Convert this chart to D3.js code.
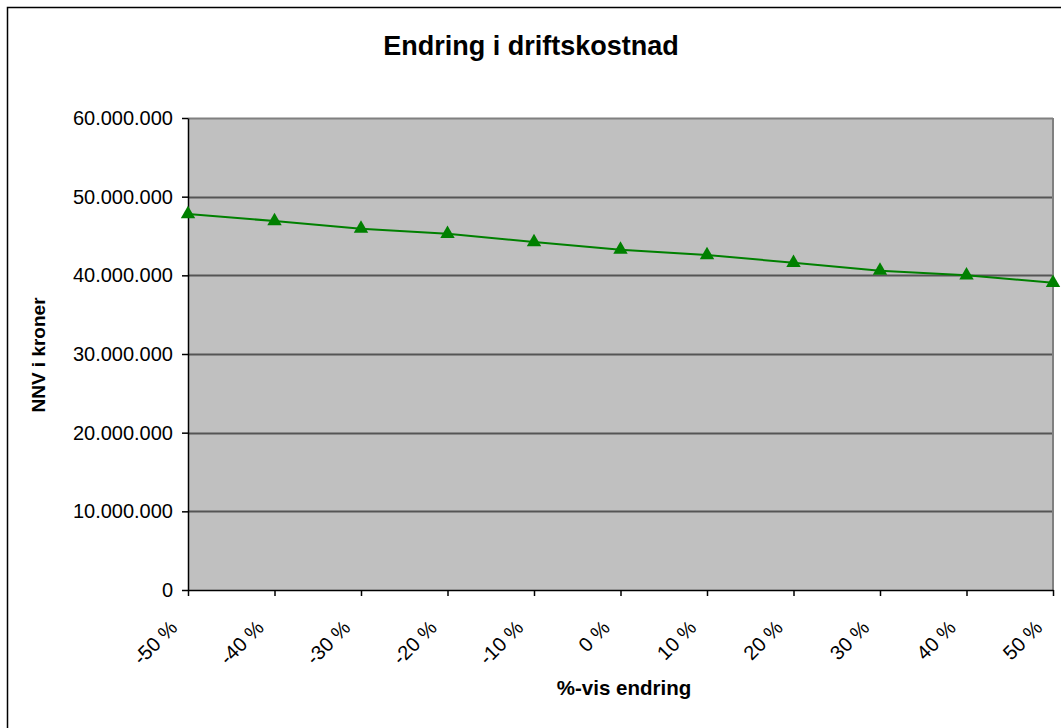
<!DOCTYPE html>
<html>
<head>
<meta charset="utf-8">
<script src="https://cdn.jsdelivr.net/npm/d3@7"></script>
<style>
  html, body { margin: 0; padding: 0; background: #fff; }
  svg { display: block; font-family: "Liberation Sans", Arial, sans-serif; }
</style>
</head>
<body>
<svg id="chart" width="1061" height="728"></svg>
<script>
// Sensitivity of net present value to a change in operating cost
const categories = ["-50 %", "-40 %", "-30 %", "-20 %", "-10 %", "0 %", "10 %", "20 %", "30 %", "40 %", "50 %"];
const npvValues = [47800000, 46900000, 45930000, 45290000, 44240000, 43260000, 42580000, 41600000, 40590000, 40000000, 39060000];
const yTicks = [0, 10000000, 20000000, 30000000, 40000000, 50000000, 60000000];

const title = "Endring i driftskostnad";
const xTitle = "%-vis endring";
const yTitle = "NNV i kroner";

const svg = d3.select("#chart");
const W = 1061, H = 728;
const plot = { left: 188, top: 118, right: 1053, bottom: 590 };

// outer chart frame (continues past the right and bottom edges)
svg.append("rect")
  .attr("x", 7.5).attr("y", 7.5)
  .attr("width", W + 20).attr("height", H + 20)
  .attr("fill", "#fff").attr("stroke", "#000").attr("stroke-width", 1.5);

const x = d3.scalePoint().domain(categories).range([plot.left, plot.right]).padding(0);
const y = d3.scaleLinear().domain([0, 60000000]).range([plot.bottom, plot.top]);

// plot background
svg.append("rect")
  .attr("x", plot.left).attr("y", plot.top)
  .attr("width", plot.right - plot.left).attr("height", plot.bottom - plot.top)
  .attr("fill", "#c0c0c0");

// horizontal gridlines
svg.append("g").selectAll("line")
  .data(yTicks.filter(d => d > 0))
  .join("line")
  .attr("x1", plot.left).attr("x2", plot.right)
  .attr("y1", d => Math.round(y(d)) + 0.5).attr("y2", d => Math.round(y(d)) + 0.5)
  .attr("stroke", d => d === 60000000 ? "#808080" : "#555")
  .attr("stroke-width", 2);

// right border of plot area
svg.append("line")
  .attr("x1", plot.right).attr("x2", plot.right)
  .attr("y1", plot.top).attr("y2", plot.bottom)
  .attr("stroke", "#808080").attr("stroke-width", 2);

const fmt = v => v === 0 ? "0" : d3.format(",")(v).replace(/,/g, ".");

// y axis
const yAxis = svg.append("g")
  .attr("transform", `translate(${plot.left},0)`)
  .call(d3.axisLeft(y).tickValues(yTicks).tickFormat(fmt).tickSizeOuter(0).tickSizeInner(6).tickPadding(9));
yAxis.select(".domain").attr("stroke", "#000").attr("stroke-width", 1.5);
yAxis.selectAll(".tick line").attr("stroke", "#000").attr("stroke-width", 1.5);
yAxis.selectAll(".tick text")
  .attr("font-size", 20).attr("fill", "#000")
  .attr("font-family", "Liberation Sans, Arial, sans-serif");

// x axis
const xAxis = svg.append("g")
  .attr("transform", `translate(0,${plot.bottom})`)
  .call(d3.axisBottom(x).tickSizeOuter(0).tickSizeInner(6));
xAxis.select(".domain").attr("stroke", "#000").attr("stroke-width", 1.5);
xAxis.selectAll(".tick line").attr("stroke", "#000").attr("stroke-width", 1.5);
xAxis.selectAll(".tick text")
  .attr("font-size", 20).attr("fill", "#000")
  .attr("font-family", "Liberation Sans, Arial, sans-serif")
  .attr("text-anchor", "end")
  .attr("dy", null)
  .attr("y", 0)
  .attr("transform", "translate(-10,39) rotate(-45)");

// series line
svg.append("path")
  .datum(npvValues)
  .attr("d", d3.line().x((d, i) => x(categories[i])).y(d => y(d)))
  .attr("fill", "none")
  .attr("stroke", "#008000")
  .attr("stroke-width", 2);

// triangle markers
const tri = d3.symbol().type(d3.symbolTriangle).size(90);
svg.append("g").selectAll("path")
  .data(npvValues)
  .join("path")
  .attr("d", tri)
  .attr("transform", (d, i) => `translate(${x(categories[i])},${y(d)})`)
  .attr("fill", "#008000");

// titles
svg.append("text")
  .attr("x", 531).attr("y", 55)
  .attr("text-anchor", "middle")
  .attr("font-size", 27).attr("font-weight", "bold")
  .text(title);

svg.append("text")
  .attr("x", 624).attr("y", 695)
  .attr("text-anchor", "middle")
  .attr("font-size", 20.5).attr("font-weight", "bold")
  .text(xTitle);

svg.append("text")
  .attr("transform", `translate(45,355) rotate(-90)`)
  .attr("text-anchor", "middle")
  .attr("font-size", 19).attr("font-weight", "bold")
  .text(yTitle);
</script>
</body>
</html>
